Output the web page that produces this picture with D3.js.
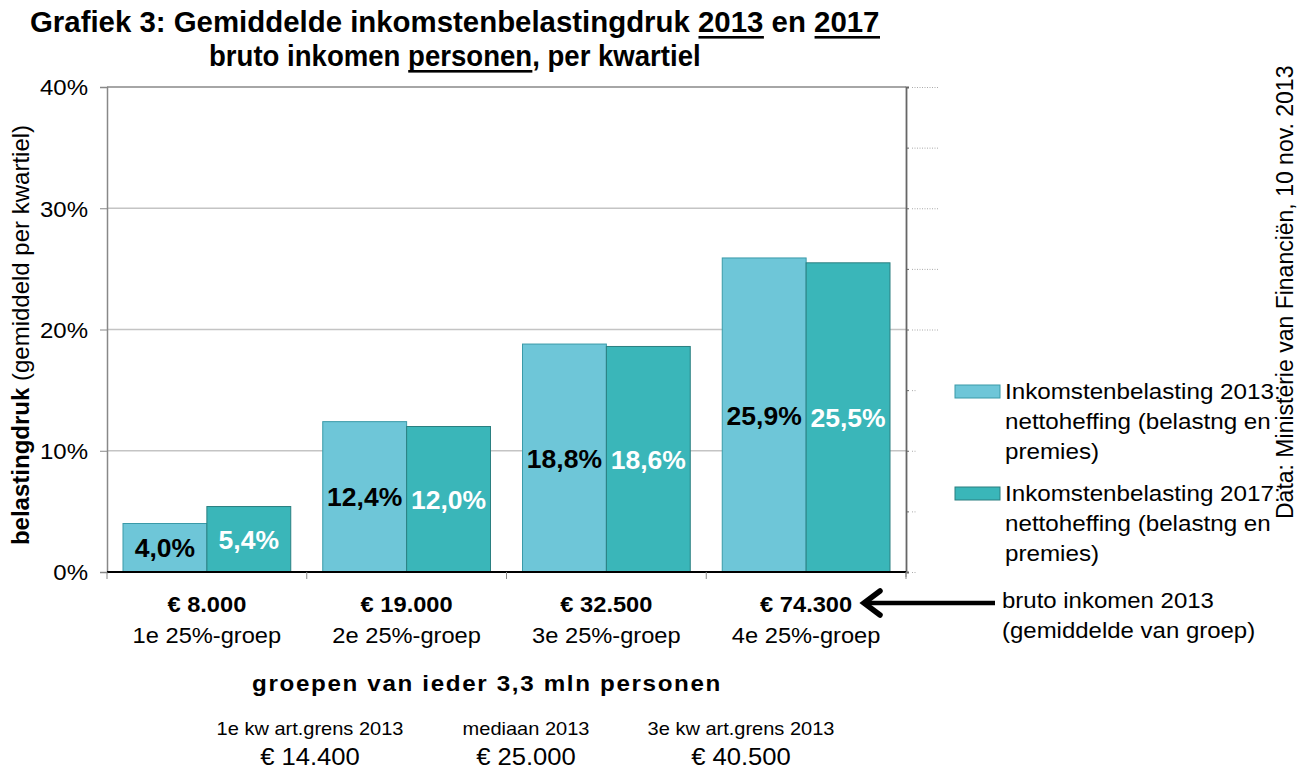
<!DOCTYPE html>
<html><head><meta charset="utf-8">
<script src="https://cdn.jsdelivr.net/npm/d3@7"></script>
<style>
body{margin:0;background:#fff;}
svg{display:block;font-family:"Liberation Sans",Arial,sans-serif;}
</style></head>
<body>
<svg id="chart" width="1299" height="769"></svg>
<script>
const categories = ["1e 25%-groep","2e 25%-groep","3e 25%-groep","4e 25%-groep"];
const incomes = ["€ 8.000","€ 19.000","€ 32.500","€ 74.300"];
const series = ["2013","2017"];
const values2013 = [4.0, 12.4, 18.8, 25.9];
const values2017 = [5.4, 12.0, 18.6, 25.5];
const yTicks = [0,10,20,30,40];
const legendLabels = [
  ["Inkomstenbelasting 2013:","nettoheffing (belastng en","premies)"],
  ["Inkomstenbelasting 2017:","nettoheffing (belastng en","premies)"]
];
const arrowLabel = ["bruto inkomen 2013","(gemiddelde van groep)"];
const boundaryLabels = ["1e kw art.grens 2013","mediaan 2013","3e kw art.grens 2013"];
const boundaryValues = ["€ 14.400","€ 25.000","€ 40.500"];
const colors = {"2013":"#6EC6D8","2017":"#3AB6B9"};
const strokes = {"2013":"#3a9aa8","2017":"#2a7f80"};
const labelColors = {"2013":"#000","2017":"#fff"};

const K = 1.1; // horizontal stretch of text
const svg = d3.select("#chart");
const L=107, R=906, T=87, B=572;
const x = d3.scaleBand().domain(categories).range([L,R]).padding(0);
const xs = d3.scaleBand().domain(series).range([16, x.bandwidth()-16]).padding(0);
const y = d3.scaleLinear().domain([0,40]).range([B,T]);

function txt(parent, xx, yy, str, fs, opts={}){
  const t = parent.append("text").attr("transform",`translate(${xx},${yy}) scale(${opts.k||K},1)`)
    .attr("font-size",fs).attr("text-anchor",opts.anchor||"start").text(str);
  if(opts.bold) t.attr("font-weight","bold");
  if(opts.ls) t.attr("letter-spacing",opts.ls);
  if(opts.fill) t.attr("fill",opts.fill);
  return t;
}

// gridlines
svg.append("g").selectAll("line").data(yTicks.filter(d=>d>0&&d<40)).join("line")
  .attr("x1",L).attr("x2",R).attr("y1",d=>y(d)).attr("y2",d=>y(d))
  .attr("stroke","#c4c4c4").attr("stroke-width",1.3);
svg.append("line").attr("x1",L).attr("x2",R).attr("y1",T).attr("y2",T).attr("stroke","#888").attr("stroke-width",1.5);

// left axis
const yAxis = d3.axisLeft(y).tickValues(yTicks).tickFormat(d=>d+"%").tickSize(7);
const ga = svg.append("g").attr("transform",`translate(${L},0)`).call(yAxis);
ga.select(".domain").attr("stroke","#888").attr("stroke-width",1.5);
ga.selectAll(".tick line").attr("stroke","#888");
ga.selectAll(".tick text").attr("x",null).attr("dy","0.36em")
  .attr("transform",`translate(-19,0) scale(${K},1)`)
  .attr("font-size",21.8).attr("font-family","Liberation Sans, Arial").attr("fill","#000");

// right axis
const rAxis = d3.axisRight(d3.scaleLinear().domain([0,8]).range([B,T])).ticks(8).tickSize(3).tickFormat("");
const gr = svg.append("g").attr("transform",`translate(${R},0)`).call(rAxis);
gr.select(".domain").attr("stroke","#666").attr("stroke-width",1.8);
gr.selectAll(".tick line").attr("stroke","#666");
gr.selectAll(".tick").append("line").attr("x1",6).attr("x2",d=>d>=4?32:11).attr("y1",0).attr("y2",0)
  .attr("stroke","#aaa").attr("stroke-dasharray","1,1.5").attr("stroke-width",1);
svg.append("line").attr("x1",R).attr("x2",R).attr("y1",B).attr("y2",B+5).attr("stroke","#888");

// bars
const rows = categories.map((c,i)=>({c, v:{"2013":values2013[i],"2017":values2017[i]}}));
const groups = svg.append("g").selectAll("g").data(rows).join("g").attr("transform",d=>`translate(${x(d.c)},0)`);
const bars = groups.selectAll("g").data(d=>series.map(s=>({s,v:d.v[s]}))).join("g");
bars.append("rect").attr("x",d=>xs(d.s)).attr("width",xs.bandwidth()).attr("y",d=>y(d.v)).attr("height",d=>B-y(d.v))
  .attr("fill",d=>colors[d.s]).attr("stroke",d=>strokes[d.s]).attr("stroke-width",1);
bars.append("text").attr("x",d=>xs(d.s)+xs.bandwidth()/2).attr("y",d=>(y(d.v)+B)/2).attr("dy","0.36em")
  .attr("text-anchor","middle").attr("font-size",26.5).attr("font-weight","bold").attr("fill",d=>labelColors[d.s])
  .text(d=>d.v.toFixed(1).replace(".",",")+"%");

// bottom axis
svg.append("line").attr("x1",L).attr("x2",R).attr("y1",B).attr("y2",B).attr("stroke","#000").attr("stroke-width",1.8);
svg.append("g").selectAll("line").data(d3.range(categories.length+1)).join("line")
  .attr("x1",i=>L+i*x.step()).attr("x2",i=>L+i*x.step()).attr("y1",B).attr("y2",B+7).attr("stroke","#888");

// category labels
categories.forEach((c,i)=>{
  const cx = x(c)+x.bandwidth()/2;
  txt(svg, cx, 612, incomes[i], 21.5, {anchor:"middle", bold:true});
  txt(svg, cx, 643, c, 21.5, {anchor:"middle"});
});
txt(svg, 487, 691, "groepen van ieder 3,3 mln personen", 22, {anchor:"middle", bold:true, ls:1.5});

// boundary notes
const bx = [310, 526, 741];
boundaryLabels.forEach((t,i)=>{
  txt(svg, bx[i], 735, t, 18.2, {anchor:"middle"});
  txt(svg, bx[i], 765, boundaryValues[i], 23.3, {anchor:"middle"});
});

// y axis title
const yt = svg.append("text").attr("transform","translate(29,335) rotate(-90)").attr("text-anchor","middle").attr("font-size",24);
yt.append("tspan").attr("font-weight","bold").text("belastingdruk");
yt.append("tspan").text(" (gemiddeld per kwartiel)");

// title with underlines
function titleLine(parts, yy, fs, targetW){
  const g = svg.append("g");
  const t = g.append("text").attr("x",0).attr("y",yy).attr("font-size",fs).attr("font-weight","bold");
  parts.forEach(p=>t.append("tspan").text(p.t));
  const node=t.node();
  const w = node.getComputedTextLength();
  let idx=0;
  parts.forEach(p=>{
    if(p.u){
      const s=node.getStartPositionOfChar(idx).x, e=node.getEndPositionOfChar(idx+p.t.length-1).x;
      g.append("rect").attr("x",s).attr("width",e-s).attr("y",yy+4).attr("height",2.6).attr("fill","#000");
    }
    idx+=p.t.length;
  });
  g.attr("transform",`translate(${455-targetW/2},0) scale(${targetW/w},1)`);
}
titleLine([{t:"Grafiek 3: Gemiddelde inkomstenbelastingdruk "},{t:"2013",u:true},{t:" en "},{t:"2017",u:true}],32,29,850);
titleLine([{t:"bruto inkomen "},{t:"personen",u:true},{t:", per kwartiel"}],66,29,492);

// legend
const lg = svg.append("g");
legendLabels.forEach((lines,i)=>{
  const y0 = 399 + i*102;
  lg.append("rect").attr("x",955).attr("y",y0-14).attr("width",45).attr("height",13)
    .attr("fill",colors[series[i]]).attr("stroke",strokes[series[i]]).attr("stroke-width",1);
  lines.forEach((l,j)=>txt(lg, 1005, y0+j*30, l, 22));
});
// arrow
lg.append("path").attr("d","M995,603 L866,603").attr("stroke","#000").attr("stroke-width",4.5).attr("fill","none");
lg.append("path").attr("d","M880,591 L864,603 L880,615").attr("stroke","#000").attr("stroke-width",5.5)
  .attr("fill","none").attr("stroke-linecap","round");
arrowLabel.forEach((l,j)=>txt(lg, 1002, 608+j*30, l, 21.8));

// source
svg.append("text").attr("transform","translate(1293,519) rotate(-90)").attr("font-size",23)
  .text("Data: Ministerie van Financiën, 10 nov. 2013");
</script>
</body></html>
